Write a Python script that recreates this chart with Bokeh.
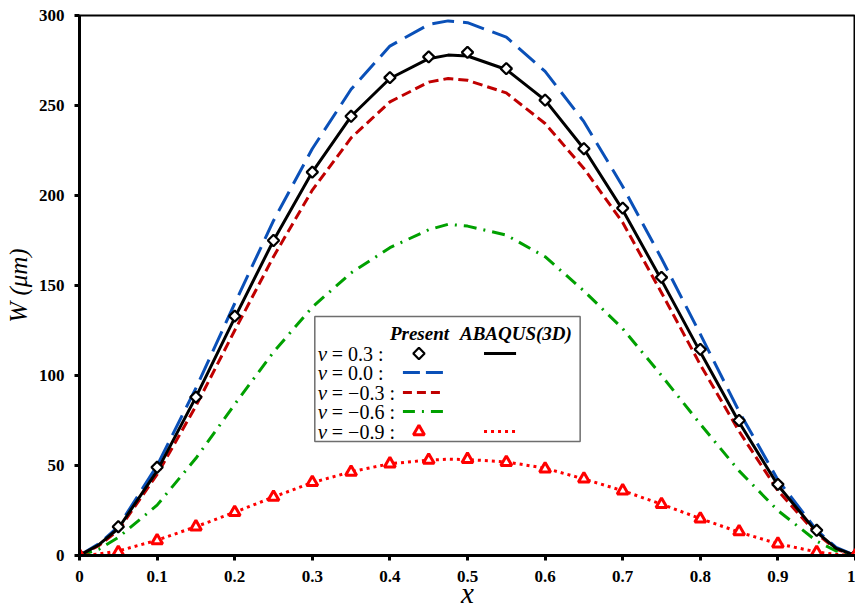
from bokeh.plotting import figure
from bokeh.models import FixedTicker, Range1d
from bokeh.core.properties import value
from bokeh.embed import file_html
from bokeh.resources import INLINE

# ---------------- data ----------------
# sample points (Present method)
x_pts = [0, 0.05, 0.1, 0.15, 0.2, 0.25, 0.3, 0.35, 0.4, 0.45, 0.5,
         0.55, 0.6, 0.65, 0.7, 0.75, 0.8, 0.85, 0.9, 0.95, 1.0]
present_03 = [0, 16, 49, 88, 133, 175, 213, 244, 265.5, 277, 279.5,
              270.5, 253, 226, 193, 154.5, 114.5, 75, 39.5, 14, 0]
present_m09 = [0, 1.8, 8.3, 16, 24, 32.4, 40.7, 46.3, 51, 53, 53.5,
               51.8, 48.2, 42.6, 36, 28.4, 20.4, 13.3, 6.5, 1.8, 0]

# ABAQUS (3D) curves
x_curve = [0, 0.025, 0.05, 0.1, 0.15, 0.2, 0.25, 0.3, 0.35, 0.4, 0.45, 0.475, 0.5,
           0.55, 0.6, 0.65, 0.7, 0.75, 0.8, 0.85, 0.9, 0.95, 0.975, 1.0]
abaqus_03 = [0, 6, 15, 47, 88, 132, 175, 213, 244, 265, 276, 278, 277.5,
             270, 253, 226, 192, 153, 113, 74, 39, 13, 4, 0]
abaqus_00 = [0, 6.5, 16, 50, 93, 140, 186, 226, 259, 283, 295, 297, 296,
             288, 269, 241, 205, 165, 123, 80, 42, 14, 4.5, 0]
abaqus_m03 = [0, 5.5, 14, 45, 83, 125, 166, 203, 232, 252, 263, 265, 264,
              257, 240, 215, 185, 146, 106, 69, 36, 12, 3.5, 0]
abaqus_m06 = [0, 3.5, 10, 28, 54, 84, 113, 138, 157, 171, 181, 184, 183,
              178, 166, 147, 126, 100, 73, 47, 25, 8, 2.5, 0]
abaqus_m09 = [0, 0.8, 2.5, 8.5, 16, 24, 32.5, 40.5, 46.5, 51, 53, 53.5, 53.3,
              52, 48.5, 42.5, 36, 28.5, 20.5, 13, 6.5, 2, 0.6, 0]

x_ticks = [0, 0.1, 0.2, 0.3, 0.4, 0.5, 0.6, 0.7, 0.8, 0.9, 1.0]
y_ticks = [0, 50, 100, 150, 200, 250, 300]

legend_labels = ["= 0.3 :", "= 0.0 :", "= \u22120.3 :", "= \u22120.6 :", "= \u22120.9 :"]

# ---------------- styles ----------------
BLACK = "#000000"
BLUE = "#0a50b8"
DRED = "#c00000"
GREEN = "#00a000"
RED = "#ff0000"
SERIF = "Liberation Serif"

p = figure(width=855, height=616, output_backend="svg", toolbar_location=None,
           x_range=Range1d(0, 1), y_range=Range1d(0, 300),
           min_border_left=79, min_border_right=0, min_border_top=15,
           min_border_bottom=61)
p.background_fill_color = "white"
p.border_fill_color = "white"
p.xgrid.visible = False
p.ygrid.visible = False
p.outline_line_color = "black"
p.outline_line_width = 2

for ax in (p.xaxis[0], p.yaxis[0]):
    ax.axis_line_width = 3
    ax.axis_line_color = "black"
    ax.major_tick_in = 0
    ax.major_tick_out = 5
    ax.major_tick_line_width = 3
    ax.minor_tick_out = 0
    ax.minor_tick_in = 0
    ax.major_label_text_font = SERIF
    ax.major_label_text_font_style = "bold"
    ax.major_label_text_font_size = "17px"
    ax.major_label_text_color = "black"
    ax.axis_label_text_font = SERIF
    ax.axis_label_text_font_style = "italic"
    ax.axis_label_text_color = "black"

p.xaxis.ticker = FixedTicker(ticks=x_ticks)
p.yaxis.ticker = FixedTicker(ticks=y_ticks)
p.xaxis.major_label_overrides = {t: ("%g" % t) for t in x_ticks}
p.yaxis.major_label_overrides = {t: ("%g" % t) for t in y_ticks}
p.xaxis.major_label_standoff = 10
p.yaxis.major_label_standoff = 10
p.xaxis.axis_label = "x"
p.xaxis.axis_label_text_font_size = "29px"
p.xaxis.axis_label_standoff = -8
p.yaxis.axis_label = "W (\u03bcm)"
p.yaxis.axis_label_text_font_size = "25px"
p.yaxis.axis_label_standoff = 4

# ---------------- curves ----------------
p.line(x_curve, abaqus_00, line_color=BLUE, line_width=3, line_dash="22 9")
p.line(x_curve, abaqus_m03, line_color=DRED, line_width=3, line_dash="10 5")
p.line(x_curve, abaqus_m06, line_color=GREEN, line_width=3, line_dash="13 7 2 7")
p.line(x_curve, abaqus_m09, line_color=RED, line_width=3, line_dash="3 4")
p.line(x_curve, abaqus_03, line_color=BLACK, line_width=3)

p.scatter(x_pts, present_03, marker="square", angle=0.7854, size=8, line_color=BLACK,
          line_width=2.2, fill_color="white")
p.scatter(x_pts, present_m09, marker="triangle", size=11, line_color=RED,
          line_width=3, fill_color="white")

# ---------------- legend (drawn manually) ----------------
def dx(px):
    return (px - 79) / 775.0

def dy(py):
    return (555 - py) / 1.8

p.quad(left=[dx(314)], right=[dx(579)], top=[dy(316)], bottom=[dy(441)],
       fill_color="white", line_color="#6e6e6e", line_width=1.5)

row_py = [353, 372, 392, 411, 431]
row_y = [dy(v) for v in row_py]

p.text(x=[dx(389), dx(459)], y=[dy(333)] * 2, text=["Present", "ABAQUS(3D)"],
       text_font=value(SERIF), text_font_size=value("19px"),
       text_font_style="bold italic", text_baseline="middle", text_align="left",
       text_color="black")
p.text(x=[dx(317)] * 5, y=row_y, text=["\u03bd"] * 5,
       text_font=value(SERIF), text_font_size=value("21px"),
       text_font_style="italic", text_baseline="middle", text_align="left",
       text_color="black")
p.text(x=[dx(331)] * 5, y=row_y, text=legend_labels,
       text_font=value(SERIF), text_font_size=value("20px"),
       text_baseline="middle", text_align="left", text_color="black")

lx0, lx1 = dx(402), dx(442)
rx0, rx1 = dx(483), dx(515)
mx = dx(418)
p.scatter([mx], [row_y[0]], marker="square", angle=0.7854, size=8, line_color=BLACK,
          line_width=2.2, fill_color="white")
p.line([rx0, rx1], [row_y[0]] * 2, line_color=BLACK, line_width=3)
p.line([lx0, lx1], [row_y[1]] * 2, line_color=BLUE, line_width=3, line_dash="17 6")
p.line([lx0, lx1], [row_y[2]] * 2, line_color=DRED, line_width=3, line_dash="9 5")
p.line([lx0, lx1], [row_y[3]] * 2, line_color=GREEN, line_width=3, line_dash="12 7 2 7")
p.scatter([mx], [row_y[4]], marker="triangle", size=11, line_color=RED,
          line_width=3, fill_color="white")
p.line([rx0, rx1], [row_y[4]] * 2, line_color=RED, line_width=3, line_dash="3 4")

open("out.html", "w").write(file_html(p, INLINE))
